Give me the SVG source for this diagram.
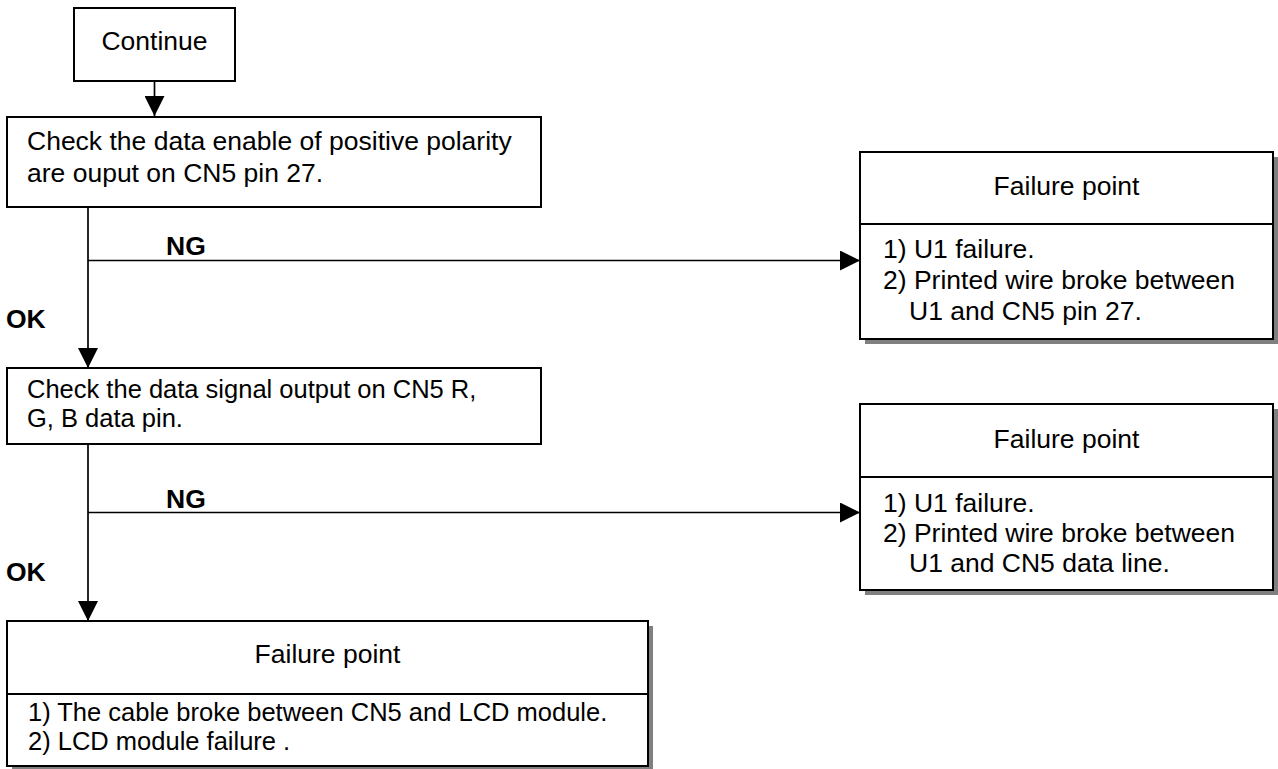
<svg xmlns="http://www.w3.org/2000/svg" width="1278" height="769" viewBox="0 0 1278 769">
  <defs>
    <marker id="arrow" markerWidth="20" markerHeight="20" viewBox="0 0 20 20" refX="20" refY="10" orient="auto" markerUnits="userSpaceOnUse">
      <path d="M0,0 L20,10 L0,20 Z" fill="#000"/>
    </marker>
  </defs>
  <style>
    .box { fill: #fff; stroke: #000; stroke-width: 2; }
    .shadow { fill: #808080; }
    .div { stroke: #000; stroke-width: 2; }
    .t { font-family: "Liberation Sans", Arial, sans-serif; font-size: 26.5px; fill: #000; }
    .tight { font-size: 25.5px; }
    .c { text-anchor: middle; }
    .b { font-weight: bold; }
    .wire { stroke: #000; stroke-width: 1.7; fill: none; }
  </style>
  <rect width="1278" height="769" fill="#fff"/>

  <!-- connectors -->
  <g id="connectors">
    <line class="wire" x1="154.5" y1="81" x2="154.5" y2="116" marker-end="url(#arrow)"/>
    <line class="wire" x1="88" y1="207" x2="88" y2="368" marker-end="url(#arrow)"/>
    <line class="wire" x1="88" y1="260.5" x2="860" y2="260.5" marker-end="url(#arrow)"/>
    <line class="wire" x1="88" y1="444" x2="88" y2="621" marker-end="url(#arrow)"/>
    <line class="wire" x1="88" y1="512.5" x2="860" y2="512.5" marker-end="url(#arrow)"/>
    <text class="t b" x="166" y="255">NG</text>
    <text class="t b" x="6" y="328">OK</text>
    <text class="t b" x="166" y="508">NG</text>
    <text class="t b" x="6" y="581">OK</text>
  </g>

  <!-- start -->
  <g id="continue">
    <rect class="box" x="74" y="8" width="161" height="73"/>
    <text class="t c" x="154.5" y="50">Continue</text>
  </g>

  <!-- step 1 -->
  <g id="check-enable">
    <rect class="box" x="7" y="117" width="534" height="90"/>
    <text class="t" x="27" y="150">Check the data enable of positive polarity</text>
    <text class="t" x="27" y="182">are ouput on CN5 pin 27.</text>
  </g>

  <!-- step 2 -->
  <g id="check-signal">
    <rect class="box" x="7" y="368" width="534" height="76"/>
    <text class="t tight" x="27" y="398">Check the data signal output on CN5 R,</text>
    <text class="t tight" x="27" y="427">G, B data pin.</text>
  </g>

  <!-- failure for step 1 -->
  <g id="failure-enable">
    <rect class="shadow" x="865" y="157" width="413" height="187"/>
    <rect class="box" x="860" y="152" width="413" height="187"/>
    <line class="div" x1="860" y1="224" x2="1273" y2="224"/>
    <text class="t c" x="1066.5" y="195">Failure point</text>
    <text class="t" x="883" y="258">1) U1 failure.</text>
    <text class="t" x="883" y="289">2) Printed wire broke between</text>
    <text class="t" x="909" y="320">U1 and CN5 pin 27.</text>
  </g>

  <!-- failure for step 2 -->
  <g id="failure-signal">
    <rect class="shadow" x="865" y="409" width="413" height="186"/>
    <rect class="box" x="860" y="404" width="413" height="186"/>
    <line class="div" x1="860" y1="477" x2="1273" y2="477"/>
    <text class="t c" x="1066.5" y="448">Failure point</text>
    <text class="t" x="883" y="511.5">1) U1 failure.</text>
    <text class="t" x="883" y="541.5">2) Printed wire broke between</text>
    <text class="t" x="909" y="571.5">U1 and CN5 data line.</text>
  </g>

  <!-- final result -->
  <g id="failure-lcd">
    <rect class="shadow" x="12" y="626" width="641" height="145"/>
    <rect class="box" x="7" y="621" width="641" height="145"/>
    <line class="div" x1="7" y1="694" x2="648" y2="694"/>
    <text class="t c" x="327.5" y="663">Failure point</text>
    <text class="t tight" x="28" y="721">1) The cable broke between CN5 and LCD module.</text>
    <text class="t tight" x="28" y="750">2) LCD module failure .</text>
  </g>
</svg>
